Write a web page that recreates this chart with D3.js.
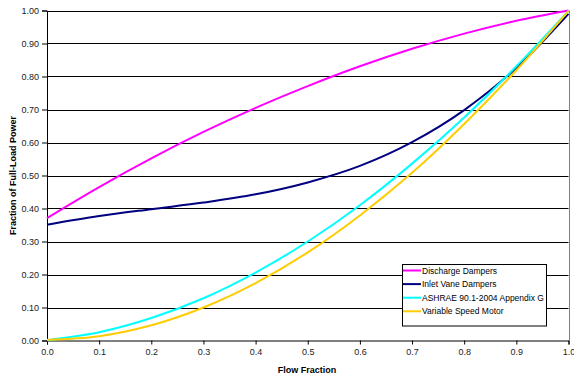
<!DOCTYPE html>
<html><head><meta charset="utf-8">
<script src="https://cdn.jsdelivr.net/npm/d3@7"></script>
<style>
html,body{margin:0;padding:0;background:#fff;}
svg{display:block;font-family:Arial,"Liberation Sans",sans-serif;}
</style></head>
<body>
<svg id="chart" width="574" height="379"></svg>
<script>
const flow = [0.0,0.1,0.2,0.3,0.4,0.5,0.6,0.7,0.8,0.9,1.0];
const dischargeDampers = [0.371,0.465,0.552,0.632,0.705,0.771,0.831,0.884,0.930,0.969,1.000];
const inletVaneDampers = [0.351,0.377,0.398,0.418,0.443,0.479,0.529,0.601,0.698,0.826,0.990];
const ashraeAppendixG = [0.001,0.025,0.068,0.128,0.206,0.300,0.410,0.536,0.676,0.831,0.999];
const variableSpeedMotor = [0.002,0.013,0.046,0.100,0.174,0.267,0.379,0.508,0.656,0.819,0.999];
const seriesNames = ["Discharge Dampers","Inlet Vane Dampers","ASHRAE 90.1-2004 Appendix G","Variable Speed Motor"];
const seriesColors = ["#FF00FF","#000080","#00FFFF","#FFCC00"];
const xTicks = [0,0.1,0.2,0.3,0.4,0.5,0.6,0.7,0.8,0.9,1.0];
const yTicks = [0,0.1,0.2,0.3,0.4,0.5,0.6,0.7,0.8,0.9,1.0];

const seriesValues = [dischargeDampers, inletVaneDampers, ashraeAppendixG, variableSpeedMotor];
const svg = d3.select("#chart");
const L = 47, R = 568.5, T = 10.5, B = 340.5;
const x = d3.scaleLinear().domain([0,1]).range([L,R]);
const y = d3.scaleLinear().domain([0,1]).range([B,T]);

// gridlines
svg.append("g").selectAll("line").data(yTicks.filter(d=>d>0)).join("line")
  .attr("x1",L).attr("x2",R).attr("y1",d=>Math.round(y(d))+0.5).attr("y2",d=>Math.round(y(d))+0.5)
  .attr("stroke","#000").attr("stroke-width",1);
// right border
svg.append("line").attr("x1",Math.round(R)+0.5).attr("x2",Math.round(R)+0.5).attr("y1",y(1)).attr("y2",y(0))
  .attr("stroke","#808080");

// axes
const yAxis = d3.axisLeft(y).tickValues(yTicks).tickFormat(d3.format(".2f")).tickSize(5).tickPadding(3);
const gy = svg.append("g").attr("transform",`translate(${L},0)`).call(yAxis);
const xAxis = d3.axisBottom(x).tickValues(xTicks).tickFormat(d3.format(".1f")).tickSize(4).tickPadding(4);
const gx = svg.append("g").attr("transform",`translate(0,${B})`).call(xAxis);
[gx,gy].forEach(g=>{
  g.select(".domain").attr("stroke","#000");
  g.selectAll(".tick line").attr("stroke","#000");
  g.selectAll("text").attr("fill","#222").style("font-size","9px").style("font-family","Arial,'Liberation Sans',sans-serif");
});
gy.selectAll(".tick line").attr("stroke","#000");

// lines
const line = d3.line().x((d,i)=>x(flow[i])).y(d=>y(d)).curve(d3.curveMonotoneX);
seriesValues.forEach((vals,k)=>{
  svg.append("path").datum(vals).attr("d",line).attr("fill","none")
    .attr("stroke",seriesColors[k]).attr("stroke-width",2);
});

// axis titles
svg.append("text").attr("x",307).attr("y",373).attr("text-anchor","middle")
  .style("font-size","9px").style("font-weight","bold").attr("fill","#000").text("Flow Fraction");
svg.append("text").attr("transform",`translate(16,${(T+B)/2}) rotate(-90)`).attr("text-anchor","middle")
  .style("font-size","9px").style("font-weight","bold").attr("fill","#000").text("Fraction of Full-Load Power");

// legend
const lg = svg.append("g");
lg.append("rect").attr("x",402.5).attr("y",264.5).attr("width",144).attr("height",61.5)
  .attr("fill","#fff").attr("stroke","#000").attr("stroke-width",1);
seriesNames.forEach((n,k)=>{
  const yy = 270.5 + k*13.6;
  lg.append("line").attr("x1",403).attr("x2",421).attr("y1",yy).attr("y2",yy)
    .attr("stroke",seriesColors[k]).attr("stroke-width",2);
  lg.append("text").attr("x",422).attr("y",yy+3).style("font-size","8.5px").attr("fill","#000").text(n);
});
</script>
</body></html>
